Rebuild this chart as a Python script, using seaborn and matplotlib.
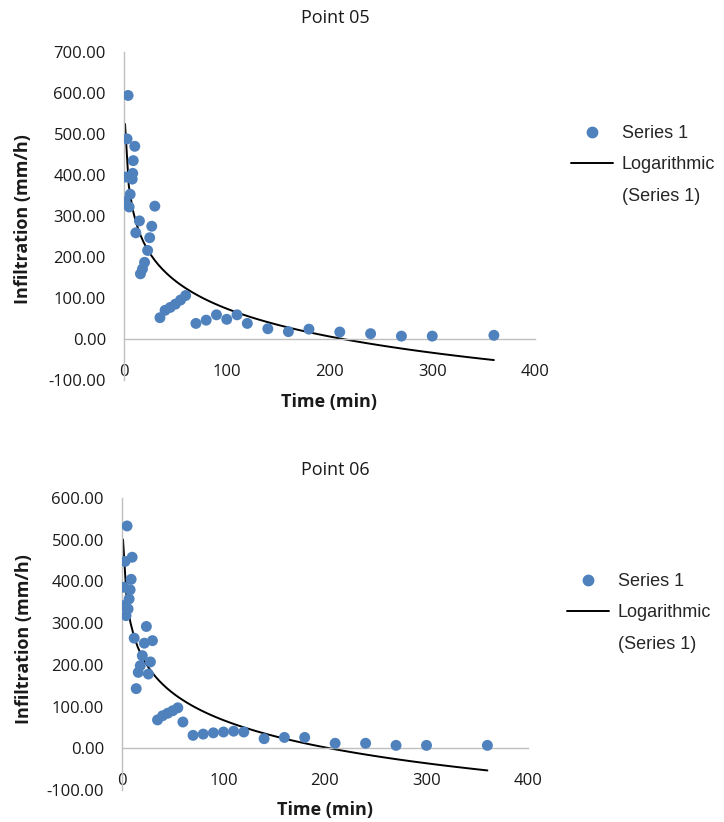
import numpy as np
import pandas as pd
import seaborn as sns
import matplotlib.pyplot as plt
from matplotlib.lines import Line2D

# ---- data ----
time_05 = [1, 1.5, 3, 4, 5, 6, 8, 8.5, 9, 10.5, 11.5, 15, 16, 18, 20, 23, 25, 27, 30,
           35, 40, 45, 50, 55, 60, 70, 80, 90, 100, 110, 120, 140, 160, 180, 210, 240,
           270, 300, 360]
infil_05 = [335, 395, 488, 594, 322, 353, 390, 404, 435, 470, 259, 288, 159, 171, 187,
            216, 247, 275, 324, 52, 70, 77, 85, 95, 106, 38, 46, 59, 48, 59, 38, 25, 18,
            24, 17, 13, 7, 7, 9]

time_06 = [1, 2, 3, 4, 5, 6, 7, 8, 9, 10, 12, 14, 16, 18, 20, 22, 24, 26, 28, 30,
           35, 40, 45, 50, 55, 60, 70, 80, 90, 100, 110, 120, 140, 160, 180, 210, 240,
           270, 300, 360]
infil_06 = [342, 386, 448, 318, 533, 334, 358, 380, 405, 458, 264, 143, 182, 198, 222,
            252, 292, 178, 207, 258, 68, 78, 84, 90, 97, 63, 31, 34, 37, 39, 41, 39, 23,
            26, 26, 12, 12, 7, 7, 7]

titles = ["Point 05", "Point 06"]
x_ticks = [0, 100, 200, 300, 400]
y_ticks_05 = [-100, 0, 100, 200, 300, 400, 500, 600, 700]
y_ticks_06 = [-100, 0, 100, 200, 300, 400, 500, 600]
series_label = "Series 1"
trend_label = "Logarithmic"
trend_label2 = "(Series 1)"
x_label = "Time (min)"
y_label = "Infiltration (mm/h)"

sns.set_style("white")
plt.rcParams["font.family"] = ["Open Sans", "DejaVu Sans"]

W, H = 724, 822
fig = plt.figure(figsize=(W / 100, H / 100), dpi=100)
fig.patch.set_facecolor("white")

BLUE = "#4F81BD"
GRAY = "#BFBFBF"


def axes_px(l, r, t, b):
    return fig.add_axes([l / W, 1 - b / H, (r - l) / W, (b - t) / H])


def draw(ax, t, v, yticks, title, title_xy, legend_xy):
    df = pd.DataFrame({x_label: t, y_label: v})
    sns.regplot(data=df, x=x_label, y=y_label, logx=True, ci=None, scatter=False,
                truncate=True, ax=ax, line_kws=dict(color="black", lw=1.4, zorder=2))
    sns.scatterplot(data=df, x=x_label, y=y_label, ax=ax, color=BLUE, s=62,
                    edgecolor="none", linewidth=0, zorder=3)
    ax.set_xlim(0, 400)
    ax.set_ylim(yticks[0], yticks[-1])
    ax.set_xticks(x_ticks)
    ax.set_yticks(yticks)
    ax.set_yticklabels([f"{y:.2f}" for y in yticks])
    for s in ["top", "right"]:
        ax.spines[s].set_visible(False)
    ax.spines["left"].set_color(GRAY)
    ax.spines["left"].set_linewidth(1.0)
    ax.spines["bottom"].set_color(GRAY)
    ax.spines["bottom"].set_linewidth(1.0)
    ax.spines["bottom"].set_position(("data", 0))
    ax.tick_params(axis="both", length=0, labelsize=12, colors="#1a1a1a")
    ax.tick_params(axis="y", pad=13)
    ax.tick_params(axis="x", pad=18)
    ax.set_xlabel(x_label, fontsize=13, fontweight="bold", color="#1a1a1a")
    ax.set_ylabel(y_label, fontsize=13, fontweight="bold", color="#1a1a1a")
    ax.grid(False)
    fig.text(title_xy[0] / W, 1 - title_xy[1] / H, title, ha="center", va="center",
             fontsize=13, color="#1a1a1a")
    # legend
    handles = [Line2D([], [], marker="o", ls="none", color=BLUE, markersize=8.5,
                      markeredgewidth=0),
               Line2D([], [], color="black", lw=1.4),
               Line2D([], [], color="none", lw=0)]
    ax.legend(handles, [series_label, trend_label, trend_label2],
              loc="upper left", bbox_to_anchor=(legend_xy[0] / W, 1 - legend_xy[1] / H),
              bbox_transform=fig.transFigure, frameon=False,
              prop={"family": "Liberation Sans", "size": 13},
              handlelength=2.3, handletextpad=0.5, labelspacing=0.8,
              borderaxespad=0, borderpad=0)
    return ax


ax1 = axes_px(124, 535, 52, 380)
draw(ax1, time_05, infil_05, y_ticks_05, titles[0], (335, 18), (571, 125))
ax1.xaxis.set_label_coords((329 - 124) / 411, -(393 - 380) / 328)
ax1.yaxis.set_label_coords(-(124 - 32) / 411, (380 - 219) / 328)

ax2 = axes_px(122, 528, 498, 790)
draw(ax2, time_06, infil_06, y_ticks_06, titles[1], (335, 470), (567, 573))
ax2.xaxis.set_label_coords((325 - 122) / 406, -(801 - 790) / 292)
ax2.yaxis.set_label_coords(-(122 - 33) / 406, (790 - 639) / 292)

fig.savefig("out.png", dpi=100, facecolor="white")
